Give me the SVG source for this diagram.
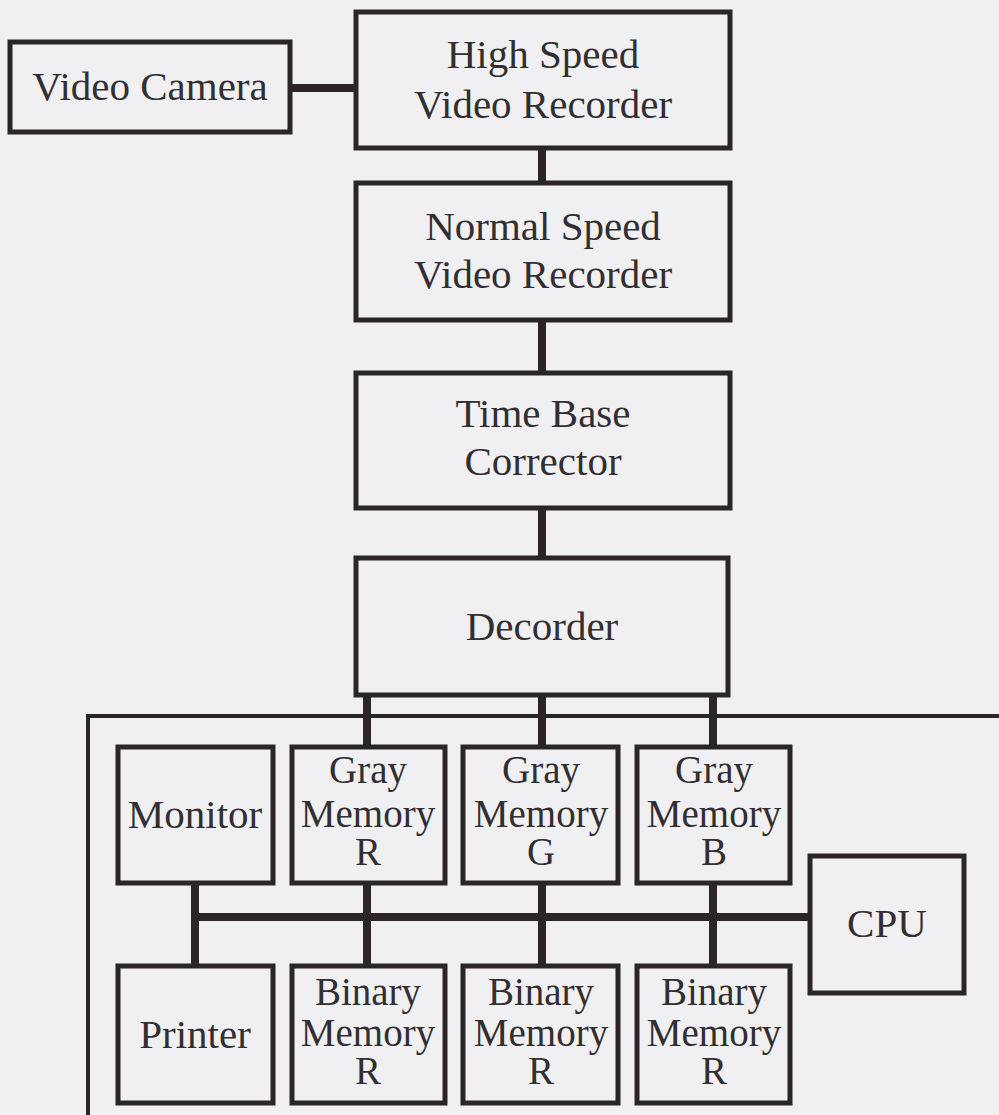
<svg xmlns="http://www.w3.org/2000/svg" width="999" height="1115" viewBox="0 0 999 1115">
<style>
.box{fill:none;stroke:#2b2528;stroke-width:5}
.frame{fill:none;stroke:#2b2528;stroke-width:4}
.con{stroke:#2b2528;stroke-width:8;fill:none}
text{font-family:"Liberation Serif","Times New Roman",serif;font-size:41px;fill:#332e30;text-anchor:middle}
.mem text{font-size:39px}
</style>
<rect width="999" height="1115" fill="#f0f0f2"/>
<g id="frame"><path class="frame" d="M88,1115 V716 H999"/></g>
<g id="connectors">
<line class="con" x1="290" y1="88" x2="357" y2="88"/>
<line class="con" x1="542" y1="148" x2="542" y2="183"/>
<line class="con" x1="542" y1="320" x2="542" y2="373"/>
<line class="con" x1="542" y1="508" x2="542" y2="558"/>
<line class="con" x1="367" y1="695" x2="367" y2="747"/>
<line class="con" x1="542" y1="695" x2="542" y2="747"/>
<line class="con" x1="713" y1="695" x2="713" y2="747"/>
<line class="con" x1="191" y1="917" x2="810" y2="917"/>
<line class="con" x1="195" y1="883" x2="195" y2="966"/>
<line class="con" x1="367" y1="883" x2="367" y2="966"/>
<line class="con" x1="542" y1="883" x2="542" y2="966"/>
<line class="con" x1="713" y1="883" x2="713" y2="966"/>
</g>
<g id="videoCamera"><rect class="box" x="10" y="42" width="280" height="90"/><text x="150" y="100">Video Camera</text></g>
<g id="hsvr"><rect class="box" x="356" y="12" width="374" height="136"/><text x="543" y="68">High Speed</text><text x="543" y="118">Video Recorder</text></g>
<g id="nsvr"><rect class="box" x="356" y="183" width="374" height="137"/><text x="543" y="240">Normal Speed</text><text x="543" y="288">Video Recorder</text></g>
<g id="tbc"><rect class="box" x="356" y="373" width="374" height="135"/><text x="543" y="427">Time Base</text><text x="543" y="475">Corrector</text></g>
<g id="decorder"><rect class="box" x="356" y="558" width="372" height="137"/><text x="542" y="640">Decorder</text></g>
<g id="monitor"><rect class="box" x="118" y="747" width="155" height="136"/><text x="195" y="828">Monitor</text></g>
<g id="grayR" class="mem"><rect class="box" x="292" y="747" width="153" height="136"/><text x="368" y="783">Gray</text><text x="368" y="827">Memory</text><text x="368" y="865">R</text></g>
<g id="grayG" class="mem"><rect class="box" x="463" y="747" width="155" height="136"/><text x="541" y="783">Gray</text><text x="541" y="827">Memory</text><text x="541" y="865">G</text></g>
<g id="grayB" class="mem"><rect class="box" x="637" y="747" width="153" height="136"/><text x="714" y="783">Gray</text><text x="714" y="827">Memory</text><text x="714" y="865">B</text></g>
<g id="cpu"><rect class="box" x="810" y="856" width="154" height="137"/><text x="887" y="937">CPU</text></g>
<g id="printer"><rect class="box" x="118" y="966" width="155" height="137"/><text x="195" y="1048">Printer</text></g>
<g id="binR1" class="mem"><rect class="box" x="292" y="966" width="153" height="137"/><text x="368" y="1005">Binary</text><text x="368" y="1046">Memory</text><text x="368" y="1084">R</text></g>
<g id="binR2" class="mem"><rect class="box" x="463" y="966" width="155" height="137"/><text x="541" y="1005">Binary</text><text x="541" y="1046">Memory</text><text x="541" y="1084">R</text></g>
<g id="binR3" class="mem"><rect class="box" x="637" y="966" width="153" height="137"/><text x="714" y="1005">Binary</text><text x="714" y="1046">Memory</text><text x="714" y="1084">R</text></g>
</svg>
